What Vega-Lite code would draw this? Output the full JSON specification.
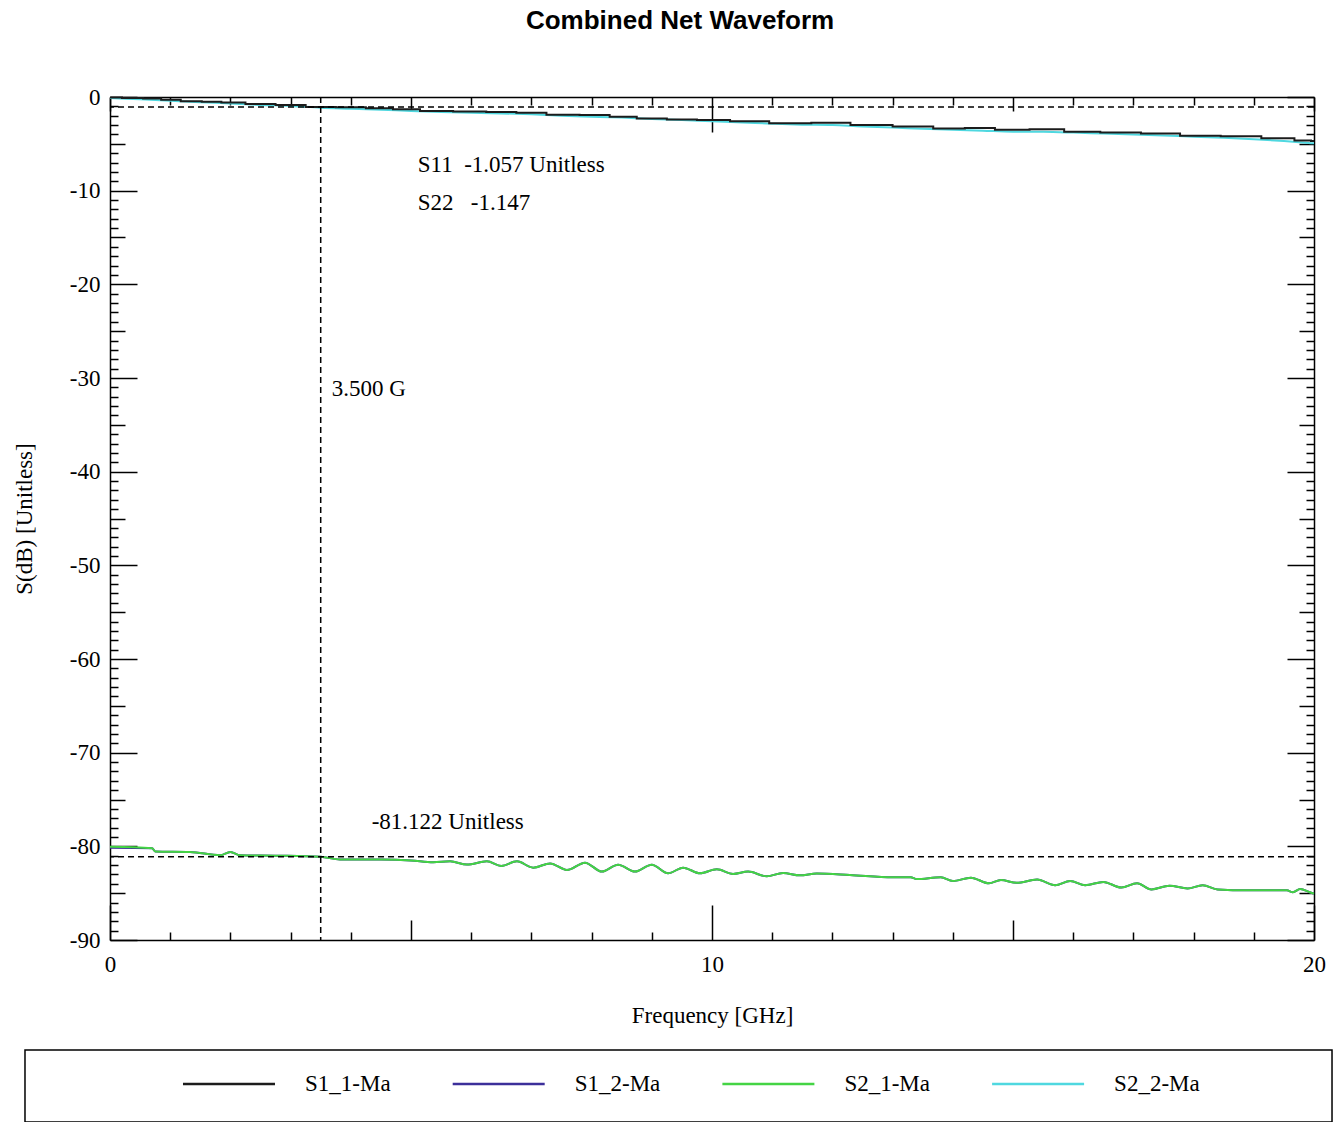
{
  "$schema": "https://vega.github.io/schema/vega-lite/v6.json",
  "background": "white",
  "padding": {"left": 13, "top": 8, "right": 5, "bottom": 0},
  "title": {"text": "Combined Net Waveform", "font": "Liberation Sans", "fontSize": 26, "fontWeight": "bold", "color": "black", "anchor": "middle", "offset": 52, "dx": 7},
  "config": {
    "view": {"stroke": null},
    "axis": {"grid": false, "domainColor": "black", "domainWidth": 1.5, "tickColor": "black", "tickWidth": 1.5, "labelFont": "Liberation Serif", "labelFontSize": 23, "labelColor": "black", "titleFont": "Liberation Serif", "titleFontSize": 23, "titleFontWeight": "normal", "titleColor": "black", "labelOverlap": false, "labelFlush": false}
  },
  "datasets": {
    "series": [
      {"f":0,"s":-0.05,"series":"S1_1-Ma"},{"f":0.4,"s":-0.1,"series":"S1_1-Ma"},{"f":0.7,"s":-0.15,"series":"S1_1-Ma"},{"f":1.0,"s":-0.3,"series":"S1_1-Ma"},{"f":1.35,"s":-0.45,"series":"S1_1-Ma"},{"f":1.7,"s":-0.5,"series":"S1_1-Ma"},{"f":2.0,"s":-0.6,"series":"S1_1-Ma"},{"f":2.5,"s":-0.75,"series":"S1_1-Ma"},{"f":3.0,"s":-0.85,"series":"S1_1-Ma"},{"f":3.5,"s":-1.06,"series":"S1_1-Ma"},{"f":4.0,"s":-1.1,"series":"S1_1-Ma"},{"f":4.5,"s":-1.2,"series":"S1_1-Ma"},{"f":4.9,"s":-1.3,"series":"S1_1-Ma"},{"f":5.4,"s":-1.5,"series":"S1_1-Ma"},{"f":6.0,"s":-1.55,"series":"S1_1-Ma"},{"f":6.5,"s":-1.6,"series":"S1_1-Ma"},{"f":7.0,"s":-1.67,"series":"S1_1-Ma"},{"f":7.5,"s":-1.9,"series":"S1_1-Ma"},{"f":8.1,"s":-1.92,"series":"S1_1-Ma"},{"f":8.5,"s":-2.1,"series":"S1_1-Ma"},{"f":9.0,"s":-2.3,"series":"S1_1-Ma"},{"f":9.5,"s":-2.4,"series":"S1_1-Ma"},{"f":10.0,"s":-2.45,"series":"S1_1-Ma"},{"f":10.6,"s":-2.6,"series":"S1_1-Ma"},{"f":11.3,"s":-2.8,"series":"S1_1-Ma"},{"f":12.0,"s":-2.75,"series":"S1_1-Ma"},{"f":12.6,"s":-3.0,"series":"S1_1-Ma"},{"f":13.4,"s":-3.15,"series":"S1_1-Ma"},{"f":13.95,"s":-3.35,"series":"S1_1-Ma"},{"f":14.45,"s":-3.3,"series":"S1_1-Ma"},{"f":14.95,"s":-3.5,"series":"S1_1-Ma"},{"f":15.6,"s":-3.45,"series":"S1_1-Ma"},{"f":16.1,"s":-3.7,"series":"S1_1-Ma"},{"f":16.8,"s":-3.8,"series":"S1_1-Ma"},{"f":17.45,"s":-3.9,"series":"S1_1-Ma"},{"f":18.1,"s":-4.15,"series":"S1_1-Ma"},{"f":18.8,"s":-4.2,"series":"S1_1-Ma"},{"f":19.45,"s":-4.4,"series":"S1_1-Ma"},{"f":19.9,"s":-4.65,"series":"S1_1-Ma"},{"f":20,"s":-4.7,"series":"S1_1-Ma"},

      {"f":0,"s":-80.15,"series":"S1_2-Ma"},{"f":0.7,"s":-80.2,"series":"S1_2-Ma"},{"f":0.75,"s":-80.55,"series":"S1_2-Ma"},{"f":1.33,"s":-80.6,"series":"S1_2-Ma"},{"f":1.83,"s":-80.95,"series":"S1_2-Ma"},{"f":2.0,"s":-80.6,"series":"S1_2-Ma"},{"f":2.16,"s":-80.95,"series":"S1_2-Ma"},{"f":2.8,"s":-81.0,"series":"S1_2-Ma"},{"f":3.5,"s":-81.12,"series":"S1_2-Ma"},{"f":3.82,"s":-81.4,"series":"S1_2-Ma"},{"f":4.5,"s":-81.4,"series":"S1_2-Ma"},{"f":5.0,"s":-81.5,"series":"S1_2-Ma"},{"f":5.37,"s":-81.7,"series":"S1_2-Ma"},{"f":5.65,"s":-81.6,"series":"S1_2-Ma"},{"f":5.93,"s":-81.95,"series":"S1_2-Ma"},{"f":6.26,"s":-81.6,"series":"S1_2-Ma"},{"f":6.5,"s":-82.1,"series":"S1_2-Ma"},{"f":6.76,"s":-81.6,"series":"S1_2-Ma"},{"f":7.03,"s":-82.28,"series":"S1_2-Ma"},{"f":7.31,"s":-81.82,"series":"S1_2-Ma"},{"f":7.59,"s":-82.52,"series":"S1_2-Ma"},{"f":7.89,"s":-81.74,"series":"S1_2-Ma"},{"f":8.17,"s":-82.7,"series":"S1_2-Ma"},{"f":8.44,"s":-81.96,"series":"S1_2-Ma"},{"f":8.72,"s":-82.7,"series":"S1_2-Ma"},{"f":9.0,"s":-81.96,"series":"S1_2-Ma"},{"f":9.27,"s":-82.88,"series":"S1_2-Ma"},{"f":9.52,"s":-82.28,"series":"S1_2-Ma"},{"f":9.8,"s":-82.88,"series":"S1_2-Ma"},{"f":10.08,"s":-82.45,"series":"S1_2-Ma"},{"f":10.35,"s":-82.95,"series":"S1_2-Ma"},{"f":10.6,"s":-82.7,"series":"S1_2-Ma"},{"f":10.91,"s":-83.2,"series":"S1_2-Ma"},{"f":11.18,"s":-82.85,"series":"S1_2-Ma"},{"f":11.46,"s":-83.1,"series":"S1_2-Ma"},{"f":11.74,"s":-82.9,"series":"S1_2-Ma"},{"f":12.29,"s":-83.05,"series":"S1_2-Ma"},{"f":13.0,"s":-83.3,"series":"S1_2-Ma"},{"f":13.3,"s":-83.3,"series":"S1_2-Ma"},{"f":13.4,"s":-83.5,"series":"S1_2-Ma"},{"f":13.8,"s":-83.3,"series":"S1_2-Ma"},{"f":14.0,"s":-83.7,"series":"S1_2-Ma"},{"f":14.3,"s":-83.35,"series":"S1_2-Ma"},{"f":14.6,"s":-83.95,"series":"S1_2-Ma"},{"f":14.8,"s":-83.6,"series":"S1_2-Ma"},{"f":15.06,"s":-83.9,"series":"S1_2-Ma"},{"f":15.4,"s":-83.55,"series":"S1_2-Ma"},{"f":15.7,"s":-84.15,"series":"S1_2-Ma"},{"f":15.95,"s":-83.7,"series":"S1_2-Ma"},{"f":16.2,"s":-84.15,"series":"S1_2-Ma"},{"f":16.5,"s":-83.8,"series":"S1_2-Ma"},{"f":16.8,"s":-84.4,"series":"S1_2-Ma"},{"f":17.06,"s":-83.95,"series":"S1_2-Ma"},{"f":17.3,"s":-84.6,"series":"S1_2-Ma"},{"f":17.6,"s":-84.2,"series":"S1_2-Ma"},{"f":17.9,"s":-84.5,"series":"S1_2-Ma"},{"f":18.15,"s":-84.15,"series":"S1_2-Ma"},{"f":18.4,"s":-84.6,"series":"S1_2-Ma"},{"f":18.9,"s":-84.7,"series":"S1_2-Ma"},{"f":19.55,"s":-84.7,"series":"S1_2-Ma"},{"f":19.65,"s":-84.9,"series":"S1_2-Ma"},{"f":19.77,"s":-84.55,"series":"S1_2-Ma"},{"f":19.93,"s":-84.9,"series":"S1_2-Ma"},{"f":20,"s":-85.05,"series":"S1_2-Ma"},

      {"f":0,"s":-80.05,"series":"S2_1-Ma"},{"f":0.7,"s":-80.2,"series":"S2_1-Ma"},{"f":0.75,"s":-80.55,"series":"S2_1-Ma"},{"f":1.33,"s":-80.6,"series":"S2_1-Ma"},{"f":1.83,"s":-80.95,"series":"S2_1-Ma"},{"f":2.0,"s":-80.6,"series":"S2_1-Ma"},{"f":2.16,"s":-80.95,"series":"S2_1-Ma"},{"f":2.8,"s":-81.0,"series":"S2_1-Ma"},{"f":3.5,"s":-81.12,"series":"S2_1-Ma"},{"f":3.82,"s":-81.4,"series":"S2_1-Ma"},{"f":4.5,"s":-81.4,"series":"S2_1-Ma"},{"f":5.0,"s":-81.5,"series":"S2_1-Ma"},{"f":5.37,"s":-81.7,"series":"S2_1-Ma"},{"f":5.65,"s":-81.6,"series":"S2_1-Ma"},{"f":5.93,"s":-81.95,"series":"S2_1-Ma"},{"f":6.26,"s":-81.6,"series":"S2_1-Ma"},{"f":6.5,"s":-82.1,"series":"S2_1-Ma"},{"f":6.76,"s":-81.6,"series":"S2_1-Ma"},{"f":7.03,"s":-82.28,"series":"S2_1-Ma"},{"f":7.31,"s":-81.82,"series":"S2_1-Ma"},{"f":7.59,"s":-82.52,"series":"S2_1-Ma"},{"f":7.89,"s":-81.74,"series":"S2_1-Ma"},{"f":8.17,"s":-82.7,"series":"S2_1-Ma"},{"f":8.44,"s":-81.96,"series":"S2_1-Ma"},{"f":8.72,"s":-82.7,"series":"S2_1-Ma"},{"f":9.0,"s":-81.96,"series":"S2_1-Ma"},{"f":9.27,"s":-82.88,"series":"S2_1-Ma"},{"f":9.52,"s":-82.28,"series":"S2_1-Ma"},{"f":9.8,"s":-82.88,"series":"S2_1-Ma"},{"f":10.08,"s":-82.45,"series":"S2_1-Ma"},{"f":10.35,"s":-82.95,"series":"S2_1-Ma"},{"f":10.6,"s":-82.7,"series":"S2_1-Ma"},{"f":10.91,"s":-83.2,"series":"S2_1-Ma"},{"f":11.18,"s":-82.85,"series":"S2_1-Ma"},{"f":11.46,"s":-83.1,"series":"S2_1-Ma"},{"f":11.74,"s":-82.9,"series":"S2_1-Ma"},{"f":12.29,"s":-83.05,"series":"S2_1-Ma"},{"f":13.0,"s":-83.3,"series":"S2_1-Ma"},{"f":13.3,"s":-83.3,"series":"S2_1-Ma"},{"f":13.4,"s":-83.5,"series":"S2_1-Ma"},{"f":13.8,"s":-83.3,"series":"S2_1-Ma"},{"f":14.0,"s":-83.7,"series":"S2_1-Ma"},{"f":14.3,"s":-83.35,"series":"S2_1-Ma"},{"f":14.6,"s":-83.95,"series":"S2_1-Ma"},{"f":14.8,"s":-83.6,"series":"S2_1-Ma"},{"f":15.06,"s":-83.9,"series":"S2_1-Ma"},{"f":15.4,"s":-83.55,"series":"S2_1-Ma"},{"f":15.7,"s":-84.15,"series":"S2_1-Ma"},{"f":15.95,"s":-83.7,"series":"S2_1-Ma"},{"f":16.2,"s":-84.15,"series":"S2_1-Ma"},{"f":16.5,"s":-83.8,"series":"S2_1-Ma"},{"f":16.8,"s":-84.4,"series":"S2_1-Ma"},{"f":17.06,"s":-83.95,"series":"S2_1-Ma"},{"f":17.3,"s":-84.6,"series":"S2_1-Ma"},{"f":17.6,"s":-84.2,"series":"S2_1-Ma"},{"f":17.9,"s":-84.5,"series":"S2_1-Ma"},{"f":18.15,"s":-84.15,"series":"S2_1-Ma"},{"f":18.4,"s":-84.6,"series":"S2_1-Ma"},{"f":18.9,"s":-84.7,"series":"S2_1-Ma"},{"f":19.55,"s":-84.7,"series":"S2_1-Ma"},{"f":19.65,"s":-84.9,"series":"S2_1-Ma"},{"f":19.77,"s":-84.55,"series":"S2_1-Ma"},{"f":19.93,"s":-84.9,"series":"S2_1-Ma"},{"f":20,"s":-85.05,"series":"S2_1-Ma"},

      {"f":0,"s":-0.1,"series":"S2_2-Ma"},{"f":0.5,"s":-0.25,"series":"S2_2-Ma"},{"f":1,"s":-0.4,"series":"S2_2-Ma"},{"f":1.5,"s":-0.55,"series":"S2_2-Ma"},{"f":2,"s":-0.7,"series":"S2_2-Ma"},{"f":2.5,"s":-0.85,"series":"S2_2-Ma"},{"f":3,"s":-0.95,"series":"S2_2-Ma"},{"f":3.5,"s":-1.15,"series":"S2_2-Ma"},{"f":4,"s":-1.25,"series":"S2_2-Ma"},{"f":4.5,"s":-1.35,"series":"S2_2-Ma"},{"f":5,"s":-1.5,"series":"S2_2-Ma"},{"f":5.5,"s":-1.6,"series":"S2_2-Ma"},{"f":6,"s":-1.68,"series":"S2_2-Ma"},{"f":6.5,"s":-1.75,"series":"S2_2-Ma"},{"f":7,"s":-1.85,"series":"S2_2-Ma"},{"f":7.5,"s":-2.0,"series":"S2_2-Ma"},{"f":8,"s":-2.1,"series":"S2_2-Ma"},{"f":8.5,"s":-2.2,"series":"S2_2-Ma"},{"f":9,"s":-2.35,"series":"S2_2-Ma"},{"f":9.5,"s":-2.45,"series":"S2_2-Ma"},{"f":10,"s":-2.6,"series":"S2_2-Ma"},{"f":10.5,"s":-2.72,"series":"S2_2-Ma"},{"f":11,"s":-2.85,"series":"S2_2-Ma"},{"f":11.5,"s":-2.95,"series":"S2_2-Ma"},{"f":12,"s":-3.0,"series":"S2_2-Ma"},{"f":12.5,"s":-3.15,"series":"S2_2-Ma"},{"f":13,"s":-3.25,"series":"S2_2-Ma"},{"f":13.5,"s":-3.4,"series":"S2_2-Ma"},{"f":14,"s":-3.5,"series":"S2_2-Ma"},{"f":14.5,"s":-3.6,"series":"S2_2-Ma"},{"f":15,"s":-3.7,"series":"S2_2-Ma"},{"f":15.5,"s":-3.72,"series":"S2_2-Ma"},{"f":16,"s":-3.8,"series":"S2_2-Ma"},{"f":16.5,"s":-3.9,"series":"S2_2-Ma"},{"f":17,"s":-4.0,"series":"S2_2-Ma"},{"f":17.5,"s":-4.1,"series":"S2_2-Ma"},{"f":18,"s":-4.25,"series":"S2_2-Ma"},{"f":18.5,"s":-4.35,"series":"S2_2-Ma"},{"f":19,"s":-4.5,"series":"S2_2-Ma"},{"f":19.5,"s":-4.7,"series":"S2_2-Ma"},{"f":20,"s":-4.95,"series":"S2_2-Ma"}
    ],
    "markers": [{"f": 3.5, "s11": -1.057, "s22": -1.147, "s21": -81.122}],
    "hlines": [{"v": -1.057}, {"v": -81.122}],
    "legendItems": [{"series": "S1_1-Ma", "i": 0}, {"series": "S1_2-Ma", "i": 1}, {"series": "S2_1-Ma", "i": 2}, {"series": "S2_2-Ma", "i": 3}]
  },
  "vconcat": [
    {
      "width": 1204,
      "height": 843,
      "layer": [
        {
          "data": {"name": "series"},
          "transform": [{"filter": "datum.series !== 'S1_1-Ma'"}],
          "mark": {"type": "line", "strokeWidth": 2, "interpolate": "monotone"},
          "encoding": {
            "x": {"field": "f", "type": "quantitative", "scale": {"domain": [0, 20], "nice": false, "zero": false},
              "axis": {"orient": "bottom", "values": [0,1,2,3,4,5,6,7,8,9,10,11,12,13,14,15,16,17,18,19,20],
                "tickSize": {"condition": [{"test": "datum.value % 10 === 0", "value": -35}, {"test": "datum.value % 5 === 0", "value": -20}], "value": -8},
                "labelExpr": "datum.value % 10 === 0 ? toString(datum.value) : ''", "labelPadding": 48, "title": "Frequency [GHz]", "titlePadding": 1}},
            "y": {"field": "s", "type": "quantitative", "scale": {"domain": [-90, 0], "nice": false, "zero": false},
              "axis": {"orient": "left", "values": [-90,-89,-88,-87,-86,-85,-84,-83,-82,-81,-80,-79,-78,-77,-76,-75,-74,-73,-72,-71,-70,-69,-68,-67,-66,-65,-64,-63,-62,-61,-60,-59,-58,-57,-56,-55,-54,-53,-52,-51,-50,-49,-48,-47,-46,-45,-44,-43,-42,-41,-40,-39,-38,-37,-36,-35,-34,-33,-32,-31,-30,-29,-28,-27,-26,-25,-24,-23,-22,-21,-20,-19,-18,-17,-16,-15,-14,-13,-12,-11,-10,-9,-8,-7,-6,-5,-4,-3,-2,-1,0],
                "tickSize": {"condition": [{"test": "datum.value % 10 === 0", "value": -27}, {"test": "datum.value % 5 === 0", "value": -15}], "value": -8},
                "labelExpr": "datum.value % 10 === 0 ? toString(datum.value) : ''", "labelPadding": 37, "title": "S(dB) [Unitless]", "titlePadding": 33}},
            "color": {"field": "series", "type": "nominal", "scale": {"domain": ["S1_1-Ma", "S1_2-Ma", "S2_1-Ma", "S2_2-Ma"], "range": ["#1c1c1c", "#3c2f9a", "#44d444", "#4fd8e0"]}, "legend": null}
          }
        },
        {
          "data": {"name": "series"},
          "transform": [{"filter": "datum.series === 'S1_1-Ma'"}],
          "mark": {"type": "line", "strokeWidth": 2, "interpolate": "step"},
          "encoding": {
            "x": {"field": "f", "type": "quantitative", "axis": null},
            "y": {"field": "s", "type": "quantitative", "axis": null},
            "color": {"field": "series", "type": "nominal", "legend": null}
          }
        },
        {
          "data": {"name": "markers"},
          "mark": {"type": "rule", "color": "black", "strokeWidth": 1.5, "strokeDash": [6, 4]},
          "encoding": {
            "x": {"field": "f", "type": "quantitative",
              "axis": {"orient": "top", "values": [0,1,2,3,4,5,6,7,8,9,10,11,12,13,14,15,16,17,18,19,20],
                "tickSize": {"condition": [{"test": "datum.value == 10", "value": -35}, {"test": "datum.value % 5 === 0", "value": -14}], "value": -8},
                "labels": false, "title": null}}
          }
        },
        {
          "data": {"name": "hlines"},
          "mark": {"type": "rule", "color": "black", "strokeWidth": 1.5, "strokeDash": [6, 4]},
          "encoding": {
            "y": {"field": "v", "type": "quantitative",
              "axis": {"orient": "right", "values": [-90,-89,-88,-87,-86,-85,-84,-83,-82,-81,-80,-79,-78,-77,-76,-75,-74,-73,-72,-71,-70,-69,-68,-67,-66,-65,-64,-63,-62,-61,-60,-59,-58,-57,-56,-55,-54,-53,-52,-51,-50,-49,-48,-47,-46,-45,-44,-43,-42,-41,-40,-39,-38,-37,-36,-35,-34,-33,-32,-31,-30,-29,-28,-27,-26,-25,-24,-23,-22,-21,-20,-19,-18,-17,-16,-15,-14,-13,-12,-11,-10,-9,-8,-7,-6,-5,-4,-3,-2,-1,0],
                "tickSize": {"condition": [{"test": "datum.value % 10 === 0", "value": -27}, {"test": "datum.value % 5 === 0", "value": -15}], "value": -8},
                "labels": false, "title": null}}
          }
        },
        {
          "data": {"name": "markers"},
          "mark": {"type": "text", "align": "left", "baseline": "middle", "dx": 97, "dy": 58, "font": "Liberation Serif", "fontSize": 23, "color": "black", "text": "S11\u00a0\u00a0-1.057 Unitless"},
          "encoding": {"x": {"field": "f", "type": "quantitative", "axis": null}, "y": {"field": "s11", "type": "quantitative", "axis": null}}
        },
        {
          "data": {"name": "markers"},
          "mark": {"type": "text", "align": "left", "baseline": "middle", "dx": 97, "dy": 95, "font": "Liberation Serif", "fontSize": 23, "color": "black", "text": "S22\u00a0\u00a0\u00a0-1.147"},
          "encoding": {"x": {"field": "f", "type": "quantitative", "axis": null}, "y": {"field": "s22", "type": "quantitative", "axis": null}}
        },
        {
          "data": {"name": "markers"},
          "mark": {"type": "text", "align": "left", "baseline": "middle", "dx": 11, "dy": 282, "font": "Liberation Serif", "fontSize": 23, "color": "black", "text": "3.500 G"},
          "encoding": {"x": {"field": "f", "type": "quantitative", "axis": null}, "y": {"field": "s11", "type": "quantitative", "axis": null}}
        },
        {
          "data": {"name": "markers"},
          "mark": {"type": "text", "align": "left", "baseline": "middle", "dx": 51, "dy": -35, "font": "Liberation Serif", "fontSize": 23, "color": "black", "text": "-81.122 Unitless"},
          "encoding": {"x": {"field": "f", "type": "quantitative", "axis": null}, "y": {"field": "s21", "type": "quantitative", "axis": null}}
        }
      ],
      "resolve": {"axis": {"x": "independent", "y": "independent"}}
    },
    {
      "width": 1204,
      "height": 72,
      "layer": [
        {
          "data": {"values": [{"box": "legend"}]},
          "mark": {"type": "rect", "fill": null, "fillOpacity": 0, "stroke": "black", "strokeWidth": 1.5},
          "encoding": {
            "x": {"datum": -0.7564, "type": "quantitative", "scale": {"domain": [-0.4412, 4.023], "nice": false, "zero": false}, "axis": null},
            "x2": {"datum": 4.0898}
          }
        },
        {
          "data": {"name": "legendItems"},
          "mark": {"type": "point", "shape": "stroke", "size": 8464, "strokeWidth": 2.5, "filled": false, "opacity": 1, "yOffset": -2},
          "encoding": {
            "x": {"field": "i", "type": "quantitative", "scale": {"domain": [-0.4412, 4.023], "nice": false, "zero": false}, "axis": null},
            "color": {"field": "series", "type": "nominal", "scale": {"domain": ["S1_1-Ma", "S1_2-Ma", "S2_1-Ma", "S2_2-Ma"], "range": ["#1c1c1c", "#3c2f9a", "#44d444", "#4fd8e0"]}, "legend": null}
          }
        },
        {
          "data": {"name": "legendItems"},
          "mark": {"type": "text", "align": "left", "baseline": "middle", "dx": 76, "yOffset": -2, "font": "Liberation Serif", "fontSize": 23, "color": "black"},
          "encoding": {
            "x": {"field": "i", "type": "quantitative", "axis": null},
            "text": {"field": "series", "type": "nominal"}
          }
        }
      ]
    }
  ],
  "spacing": 22,
  "resolve": {"scale": {"x": "independent", "y": "independent", "color": "independent"}}
}
